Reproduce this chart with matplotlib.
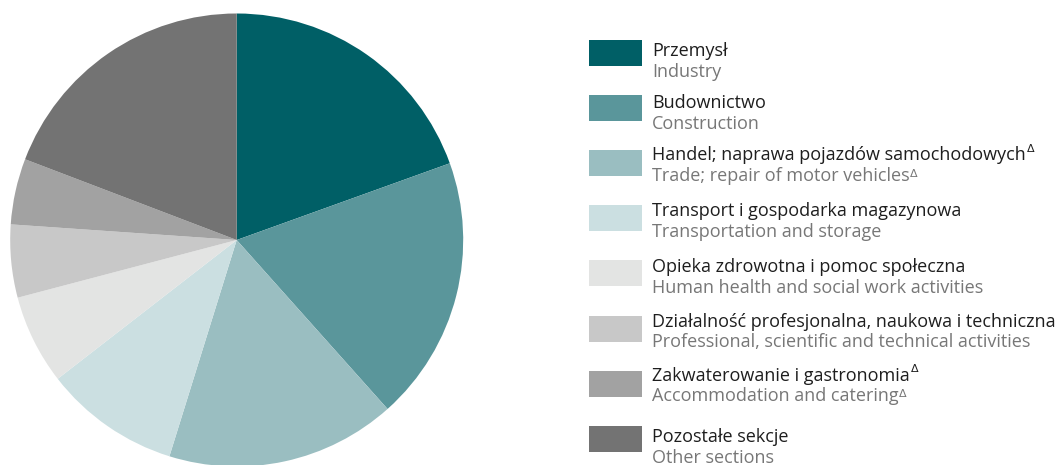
import matplotlib
matplotlib.use("Agg")
import matplotlib.pyplot as plt
from matplotlib.patches import Rectangle

labels_pl = ["Przemysł", "Budownictwo", "Handel; naprawa pojazdów samochodowych",
             "Transport i gospodarka magazynowa", "Opieka zdrowotna i pomoc społeczna",
             "Działalność profesjonalna, naukowa i techniczna", "Zakwaterowanie i gastronomia",
             "Pozostałe sekcje"]
labels_en = ["Industry", "Construction", "Trade; repair of motor vehicles",
             "Transportation and storage", "Human health and social work activities",
             "Professional, scientific and technical activities", "Accommodation and catering",
             "Other sections"]
delta_flag = [False, False, True, False, False, False, True, False]
shares = [19.5, 18.9, 16.4, 9.7, 6.4, 5.2, 4.7, 19.2]
colors = ["#005f66", "#5a969b", "#9abec1", "#cbdfe1", "#e3e4e3", "#c8c8c8", "#a2a2a2", "#737373"]

# layout: baseline offset of the Polish label from the top of its legend swatch (px)
text_offsets = [16, 13, 10, 11, 12, 11, 10, 16.5]

plt.rcParams['font.family'] = ['Open Sans', 'DejaVu Sans']

W, H = 1064, 465
fig = plt.figure(figsize=(W / 100, H / 100), dpi=100)

# legend layer in pixel coordinates
lax = fig.add_axes([0, 0, 1, 1])
lax.set_xlim(0, W)
lax.set_ylim(H, 0)
lax.axis("off")
step = 55.1
fs = 13
for i, (pl, en, c, d) in enumerate(zip(labels_pl, labels_en, colors, delta_flag)):
    y0 = 40 + i * step
    off = text_offsets[i]
    lax.add_patch(Rectangle((588.5, y0), 53, 26, facecolor=c, edgecolor="none"))
    t1 = lax.text(652, y0 + off, pl, fontsize=fs, color="#1e1e1e", va="baseline", ha="left")
    t2 = lax.text(652, y0 + off + 20.7, en, fontsize=fs, color="#777777", va="baseline", ha="left")
    if d:
        for t, col, rise in ((t1, "#1e1e1e", 7.5), (t2, "#777777", 4.5)):
            lax.annotate("Δ", xy=(1, 0), xycoords=t, xytext=(0.5, rise),
                         textcoords="offset points", fontsize=8, color=col,
                         family="DejaVu Sans", va="bottom", ha="left")

# pie
r_px = 226.5
cx, cy = 236.7, 240.0
pax = fig.add_axes([(cx - r_px) / W, (H - cy - r_px) / H, 2 * r_px / W, 2 * r_px / H])
pax.pie(shares, colors=colors, startangle=90, counterclock=False, radius=1.0,
        wedgeprops=dict(linewidth=0))
pax.set_xlim(-1, 1)
pax.set_ylim(-1, 1)
pax.set_aspect("auto")
pax.axis("off")

fig.savefig("out.png", dpi=100)
